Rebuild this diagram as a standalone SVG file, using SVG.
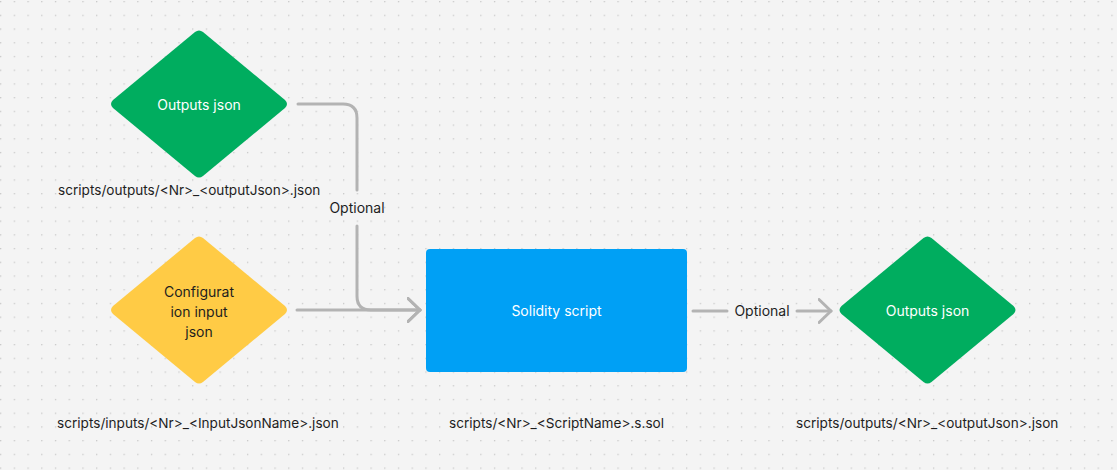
<svg xmlns="http://www.w3.org/2000/svg" width="1117" height="470" viewBox="0 0 1117 470">
<defs>
<pattern id="dots" x="0" y="1" width="13.72" height="13.72" patternUnits="userSpaceOnUse">
<rect x="0" y="0" width="1.3" height="1.3" fill="#c8c8c8"/>
</pattern>
<marker id="chev" viewBox="0 0 15 26" refX="13.5" refY="13" markerWidth="15" markerHeight="26" markerUnits="userSpaceOnUse" orient="auto">
<path d="M1.5,1.5 L13.5,13 L1.5,24.5" fill="none" stroke="#b3b3b3" stroke-width="3" stroke-linecap="round" stroke-linejoin="round"/>
</marker>
<style>
text{font-family:Inter,"Liberation Sans",sans-serif;font-size:14px;}
.w{fill:#ffffff;text-anchor:middle;font-size:14px;}
.d{fill:#1e1e1e;text-anchor:middle;}
.lbl{fill:#1e1e1e;font-size:13.6px;}
.conn{fill:none;stroke:#b3b3b3;stroke-width:3;stroke-linecap:round;}
</style>
</defs>
<rect width="1117" height="470" fill="#f4f4f4"/>
<rect width="1117" height="470" fill="url(#dots)"/>
<g id="connectors">
<path class="conn" d="M298,104 H343 Q357,104 357,118 V190"/>
<path class="conn" d="M357,226 V296 Q357,310 371,310 H420" marker-end="url(#chev)"/>
<path class="conn" d="M297,310 H420" marker-end="url(#chev)"/>
<path class="conn" d="M693,311 H727"/>
<path class="conn" d="M797,311 H831" marker-end="url(#chev)"/>
<text class="d" x="357" y="213">Optional</text>
<text class="d" x="762" y="316">Optional</text>
</g>
<g id="node-outputs-top">
<path d="M195,32 Q199,29 203,32 L285,100 Q289,104 285,108 L203,176 Q199,179 195,176 L113,108 Q109,104 113,100 Z" fill="#00ad5f"/>
<text class="w" x="199" y="110">Outputs json</text>
<text class="lbl" x="58" y="195">scripts/outputs/&lt;Nr&gt;_&lt;outputJson&gt;.json</text>
</g>
<g id="node-config">
<path d="M195,238 Q199,235 203,238 L285,306 Q289,310 285,314 L203,382 Q199,385 195,382 L113,314 Q109,310 113,306 Z" fill="#ffcb45"/>
<text class="d" x="199" y="297">Configurat</text>
<text class="d" x="199" y="317">ion input</text>
<text class="d" x="199" y="337">json</text>
<text class="lbl" x="57" y="428">scripts/inputs/&lt;Nr&gt;_&lt;InputJsonName&gt;.json</text>
</g>
<g id="node-solidity">
<rect x="426" y="249" width="261" height="123" rx="4" fill="#00a0f5"/>
<text class="w" x="556.5" y="316">Solidity script</text>
<text class="lbl" x="449" y="428">scripts/&lt;Nr&gt;_&lt;ScriptName&gt;.s.sol</text>
</g>
<g id="node-outputs-right">
<path d="M923.5,238 Q927.5,235 931.5,238 L1013.5,306 Q1017.5,310 1013.5,314 L931.5,382 Q927.5,385 923.5,382 L841.5,314 Q837.5,310 841.5,306 Z" fill="#00ad5f"/>
<text class="w" x="927.5" y="316">Outputs json</text>
<text class="lbl" x="796" y="428">scripts/outputs/&lt;Nr&gt;_&lt;outputJson&gt;.json</text>
</g>
</svg>
